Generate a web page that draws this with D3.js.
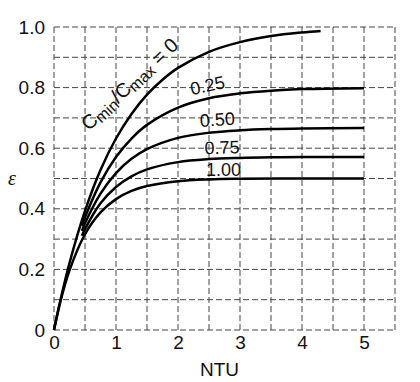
<!DOCTYPE html>
<html>
<head>
    <meta charset="utf-8">
    <script src="https://d3js.org/d3.v7.min.js"></script>
    <style>
        body { margin: 0; background: #fff; }
        text { font-family: "Liberation Sans", Arial, sans-serif; fill: #111; }
    </style>
</head>
<body>
    <div id="chart"></div>
    <script>
        // curve readings, effectiveness vs NTU for each Cmin/Cmax
        const ntuC0 = [0, 0.1, 0.25, 0.5, 0.75, 1, 1.25, 1.5, 1.75, 2, 2.5, 3, 3.5, 4, 4.3];
        const effC0 = [0, 0.095, 0.221, 0.393, 0.528, 0.632, 0.713, 0.777, 0.826, 0.865, 0.918, 0.950, 0.970, 0.982, 0.987];

        const ntuMid = [0.45, 0.5, 0.75, 1, 1.25, 1.5, 2, 2.5, 3, 3.5, 4, 5];
        const effC025 = [0.344, 0.372, 0.487, 0.571, 0.632, 0.677, 0.734, 0.765, 0.781, 0.790, 0.795, 0.798];
        const effC050 = [0.327, 0.352, 0.450, 0.518, 0.565, 0.597, 0.634, 0.651, 0.659, 0.663, 0.665, 0.667];
        const effC075 = [0.311, 0.333, 0.418, 0.472, 0.507, 0.530, 0.554, 0.564, 0.568, 0.570, 0.571, 0.571];

        const ntuC100 = [0, 0.1, 0.25, 0.5, 0.75, 1, 1.25, 1.5, 2, 2.5, 3, 4, 5];
        const effC100 = [0, 0.091, 0.197, 0.316, 0.388, 0.432, 0.459, 0.475, 0.491, 0.497, 0.499, 0.500, 0.500];

        const xTicks = [0, 1, 2, 3, 4, 5];
        const yTicks = [0, 0.2, 0.4, 0.6, 0.8, 1.0];

        const margin = { top: 27, right: 25, bottom: 52, left: 54 },
              width = 420 - margin.left - margin.right,
              height = 382 - margin.top - margin.bottom;

        const svg = d3.select("#chart")
            .append("svg")
            .attr("width", 420)
            .attr("height", 382)
            .append("g")
            .attr("transform", `translate(${margin.left},${margin.top})`);

        const x = d3.scaleLinear().domain([0, 5.5]).range([0, width]);
        const y = d3.scaleLinear().domain([0, 1]).range([height, 0]);

        // dashed grid, every 0.5 NTU and 0.1 in effectiveness
        svg.append("g")
            .selectAll("line")
            .data(d3.range(0, 5.51, 0.5))
            .enter().append("line")
            .attr("x1", d => x(d)).attr("x2", d => x(d))
            .attr("y1", 0).attr("y2", height)
            .attr("stroke", "#444").attr("stroke-width", 1)
            .attr("stroke-dasharray", "6,3");
        svg.append("g")
            .selectAll("line")
            .data(d3.range(0, 1.01, 0.1))
            .enter().append("line")
            .attr("x1", 0).attr("x2", width)
            .attr("y1", d => y(d)).attr("y2", d => y(d))
            .attr("stroke", "#444").attr("stroke-width", 1)
            .attr("stroke-dasharray", "6,3");

        // axes (labels only)
        const yAxis = svg.append("g")
            .call(d3.axisLeft(y).tickValues(yTicks).tickSize(0).tickPadding(9)
                .tickFormat(d => d === 0 ? "0" : d3.format(".1f")(d)));
        yAxis.select(".domain").remove();
        yAxis.selectAll("text").style("font-size", "19px").style("font-family", "Liberation Sans");

        const xAxis = svg.append("g")
            .attr("transform", `translate(0,${height})`)
            .call(d3.axisBottom(x).tickValues(xTicks).tickSize(0).tickPadding(6).tickFormat(d3.format("d")));
        xAxis.select(".domain").remove();
        xAxis.selectAll("text").style("font-size", "19px").style("font-family", "Liberation Sans");

        svg.append("text")
            .attr("x", x(2.67))
            .attr("y", height + 46)
            .style("text-anchor", "middle")
            .style("font-size", "19px")
            .text("NTU");

        svg.append("text")
            .attr("x", -46)
            .attr("y", y(0.48))
            .style("font-family", "Liberation Serif")
            .style("font-style", "italic")
            .style("font-size", "20px")
            .text("ε");

        // curves
        const line = d3.line()
            .x(d => x(d[0]))
            .y(d => y(d[1]))
            .curve(d3.curveCatmullRom);

        const curves = [
            d3.zip(ntuC0, effC0),
            d3.zip(ntuMid, effC025),
            d3.zip(ntuMid, effC050),
            d3.zip(ntuMid, effC075),
            d3.zip(ntuC100, effC100)
        ];

        svg.append("g")
            .selectAll("path")
            .data(curves)
            .enter().append("path")
            .attr("d", line)
            .attr("fill", "none")
            .attr("stroke", "#000")
            .attr("stroke-width", 2.5);

        // curve labels
        const lab = svg.append("text")
            .attr("transform", `translate(${x(0.56)},${y(0.655)}) rotate(-43)`)
            .style("font-size", "20px");
        lab.append("tspan").text("C");
        lab.append("tspan").attr("dy", 3).style("font-size", "16px").text("min");
        lab.append("tspan").attr("dy", -3).text("/C");
        lab.append("tspan").attr("dy", 3).style("font-size", "16px").text("max");
        lab.append("tspan").attr("dy", -3).text(" = 0");

        const labels = [
            { t: "0.25", n: 2.22, e: 0.775, r: -12 },
            { t: "0.50", n: 2.36, e: 0.67, r: -4 },
            { t: "0.75", n: 2.43, e: 0.58, r: -2 },
            { t: "1.00", n: 2.45, e: 0.508, r: 0 }
        ];
        svg.append("g")
            .selectAll("text")
            .data(labels)
            .enter().append("text")
            .attr("transform", d => `translate(${x(d.n)},${y(d.e)}) rotate(${d.r})`)
            .style("font-size", "18px")
            .text(d => d.t);
    </script>
</body>
</html>
